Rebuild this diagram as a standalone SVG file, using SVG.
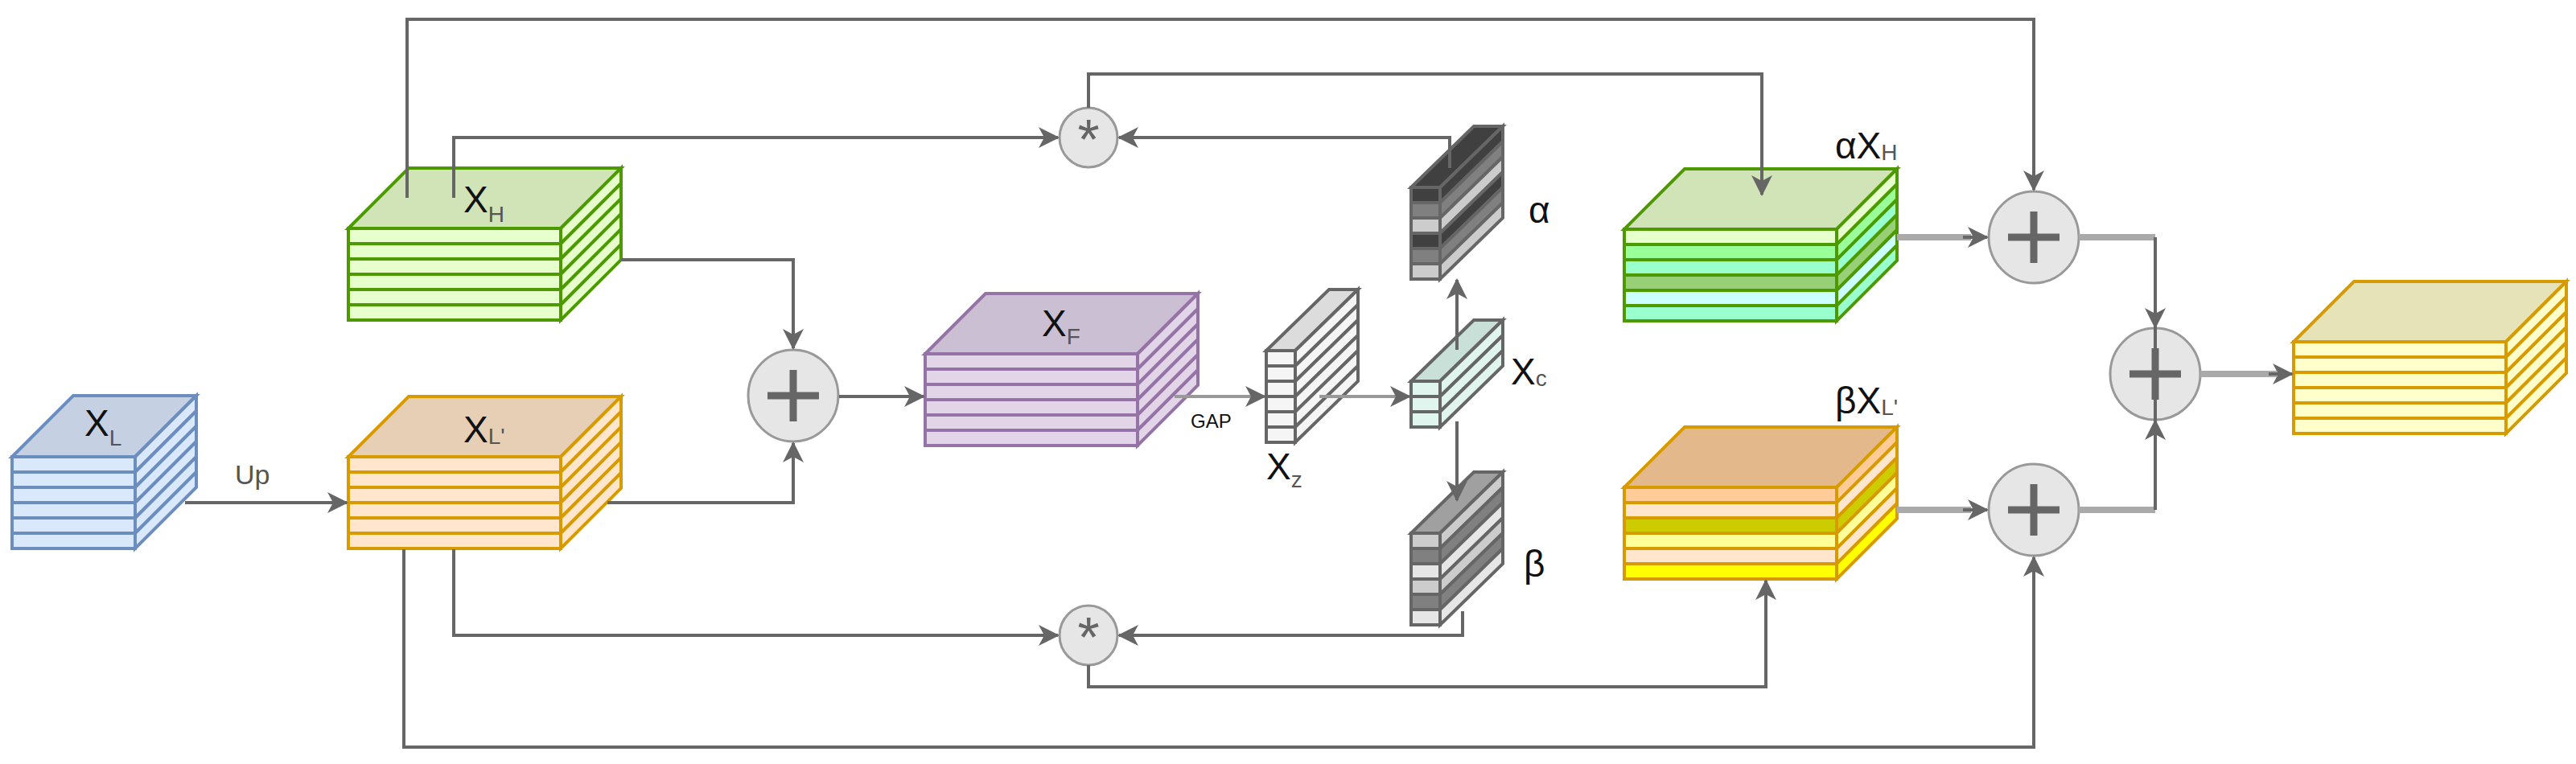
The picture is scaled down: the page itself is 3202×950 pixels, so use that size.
<svg xmlns="http://www.w3.org/2000/svg" xmlns:xlink="http://www.w3.org/1999/xlink" width="3202" height="950" viewBox="0 0 3202 950">
<style>
text{font-family:"Liberation Sans",Arial,sans-serif;fill:#111}
.lab{font-size:46px}
.sub{font-size:28px;fill:#555}
.c{fill:none;stroke:#666;stroke-width:4}
.cl{fill:none;stroke:#aaa;stroke-width:8}
.op{fill:#e6e6e6;stroke:#999;stroke-width:3}
.pl{stroke:#666;stroke-width:9}
</style>
<defs>
<marker id="a" markerUnits="userSpaceOnUse" markerWidth="26" markerHeight="26" viewBox="0 0 26 26" refX="24" refY="13" orient="auto"><path d="M0,0 L26,13 L0,26 L7,13 Z" fill="#666"/></marker>
<rect id="fs" width="264" height="19"/>
<rect id="fss" width="36" height="19"/>
<rect id="fsl" width="153" height="19"/>
<polygon id="bs" points="264,0 339,-75 339,-56 264,19"/>
<polygon id="ss" points="36,0 114,-76 114,-57 36,19"/>
<polygon id="ls" points="153,0 229,-76 229,-57 153,19"/>
</defs>

<g id="XL" transform="translate(15,568)" stroke="#6c8ebf" stroke-width="4">
<polygon points="0,0 76,-76 229,-76 153,0" fill="#c5d0e2"/>
<g fill="#dae8fc"><use href="#fsl"/><use href="#fsl" y="19"/><use href="#fsl" y="38"/><use href="#fsl" y="57"/><use href="#fsl" y="76"/><use href="#fsl" y="95"/>
<use href="#ls"/><use href="#ls" y="19"/><use href="#ls" y="38"/><use href="#ls" y="57"/><use href="#ls" y="76"/><use href="#ls" y="95"/></g>
<text x="90" y="-26" class="lab" stroke="none">X<tspan class="sub" dy="12">L</tspan></text>
</g>

<g id="XH" transform="translate(433,284)" stroke="#4d9900" stroke-width="4">
<polygon points="0,0 75,-75 339,-75 264,0" fill="#d0e4b8"/>
<g fill="#e6ffcc"><use href="#fs"/><use href="#fs" y="19"/><use href="#fs" y="38"/><use href="#fs" y="57"/><use href="#fs" y="76"/><use href="#fs" y="95"/>
<use href="#bs"/><use href="#bs" y="19"/><use href="#bs" y="38"/><use href="#bs" y="57"/><use href="#bs" y="76"/><use href="#bs" y="95"/></g>
<text x="143" y="-20" class="lab" stroke="none">X<tspan class="sub" dy="12">H</tspan></text>
</g>

<g id="XLp" transform="translate(433,568)" stroke="#d79b00" stroke-width="4">
<polygon points="0,0 75,-75 339,-75 264,0" fill="#e6cfb5"/>
<g fill="#ffe6cc"><use href="#fs"/><use href="#fs" y="19"/><use href="#fs" y="38"/><use href="#fs" y="57"/><use href="#fs" y="76"/><use href="#fs" y="95"/>
<use href="#bs"/><use href="#bs" y="19"/><use href="#bs" y="38"/><use href="#bs" y="57"/><use href="#bs" y="76"/><use href="#bs" y="95"/></g>
<text x="143" y="-18" class="lab" stroke="none">X<tspan class="sub" dy="2">L'</tspan></text>
</g>

<g id="XF" transform="translate(1150,440)" stroke="#9673a6" stroke-width="4">
<polygon points="0,0 75,-75 339,-75 264,0" fill="#cbbfd3"/>
<g fill="#e1d5e7"><use href="#fs"/><use href="#fs" y="19"/><use href="#fs" y="38"/><use href="#fs" y="57"/><use href="#fs" y="76"/><use href="#fs" y="95"/>
<use href="#bs"/><use href="#bs" y="19"/><use href="#bs" y="38"/><use href="#bs" y="57"/><use href="#bs" y="76"/><use href="#bs" y="95"/></g>
<text x="145" y="-22" class="lab" stroke="none">X<tspan class="sub" dy="10">F</tspan></text>
</g>

<g id="Xz" transform="translate(1574,436)" stroke="#666" stroke-width="4">
<polygon points="0,0 78,-76 114,-76 36,0" fill="#dcdcdc"/>
<g fill="#f5f5f5"><use href="#fss"/><use href="#fss" y="19"/><use href="#fss" y="38"/><use href="#fss" y="57"/><use href="#fss" y="76"/><use href="#fss" y="95"/>
<use href="#ss"/><use href="#ss" y="19"/><use href="#ss" y="38"/><use href="#ss" y="57"/><use href="#ss" y="76"/><use href="#ss" y="95"/></g>
<text x="-94" y="96" stroke="none" style="font-size:24px">GAP</text>
<text x="0" y="160" class="lab" stroke="none">X<tspan class="sub" dy="10">z</tspan></text>
</g>

<g id="Xc" transform="translate(1754,474)" stroke="#666" stroke-width="4">
<polygon points="0,0 78,-76 114,-76 36,0" fill="#c8e0d8"/>
<g fill="#e0f5ee"><use href="#fss"/><use href="#fss" y="19"/><use href="#fss" y="38"/>
<use href="#ss"/><use href="#ss" y="19"/><use href="#ss" y="38"/></g>
<text x="124" y="4" class="lab" stroke="none">X<tspan class="sub" dy="2">c</tspan></text>
</g>

<g id="alpha" transform="translate(1754,233)" stroke="#666" stroke-width="4">
<polygon points="0,0 78,-76 114,-76 36,0" fill="#404040"/>
<use href="#fss" fill="#404040"/><use href="#fss" y="19" fill="#808080"/><use href="#fss" y="38" fill="#cccccc"/><use href="#fss" y="57" fill="#404040"/><use href="#fss" y="76" fill="#808080"/><use href="#fss" y="95" fill="#cccccc"/>
<use href="#ss" fill="#404040"/><use href="#ss" y="19" fill="#808080"/><use href="#ss" y="38" fill="#cccccc"/><use href="#ss" y="57" fill="#404040"/><use href="#ss" y="76" fill="#808080"/><use href="#ss" y="95" fill="#cccccc"/>
<text x="146" y="44" class="lab" stroke="none">α</text>
</g>

<g id="beta" transform="translate(1754,663)" stroke="#666" stroke-width="4">
<polygon points="0,0 78,-76 114,-76 36,0" fill="#a0a0a0"/>
<use href="#fss" fill="#cccccc"/><use href="#fss" y="19" fill="#808080"/><use href="#fss" y="38" fill="#e6e6e6"/><use href="#fss" y="57" fill="#cccccc"/><use href="#fss" y="76" fill="#808080"/><use href="#fss" y="95" fill="#e6e6e6"/>
<use href="#ss" fill="#cccccc"/><use href="#ss" y="19" fill="#808080"/><use href="#ss" y="38" fill="#e6e6e6"/><use href="#ss" y="57" fill="#cccccc"/><use href="#ss" y="76" fill="#808080"/><use href="#ss" y="95" fill="#e6e6e6"/>
<text x="140" y="54" class="lab" stroke="none">β</text>
</g>

<g id="aXH" transform="translate(2019,285)" stroke="#4d9900" stroke-width="4">
<polygon points="0,0 75,-75 339,-75 264,0" fill="#d0e4b8"/>
<use href="#fs" fill="#e6ffcc"/><use href="#fs" y="19" fill="#99ff99"/><use href="#fs" y="38" fill="#99ffcc"/><use href="#fs" y="57" fill="#97d077"/><use href="#fs" y="76" fill="#ccffff"/><use href="#fs" y="95" fill="#99ffcc"/>
<use href="#bs" fill="#e6ffcc"/><use href="#bs" y="19" fill="#99ff99"/><use href="#bs" y="38" fill="#99ffcc"/><use href="#bs" y="57" fill="#97d077"/><use href="#bs" y="76" fill="#ccffff"/><use href="#bs" y="95" fill="#99ffcc"/>
<text x="262" y="-88" class="lab" stroke="none">αX<tspan class="sub" dy="2">H</tspan></text>
</g>

<g id="bXL" transform="translate(2019,606)" stroke="#d79b00" stroke-width="4">
<polygon points="0,0 75,-75 339,-75 264,0" fill="#e3b88b"/>
<use href="#fs" fill="#ffcc99"/><use href="#fs" y="19" fill="#ffe6cc"/><use href="#fs" y="38" fill="#cccc00"/><use href="#fs" y="57" fill="#ffff99"/><use href="#fs" y="76" fill="#ffe6cc"/><use href="#fs" y="95" fill="#ffff00"/>
<use href="#bs" fill="#ffcc99"/><use href="#bs" y="19" fill="#ffe6cc"/><use href="#bs" y="38" fill="#cccc00"/><use href="#bs" y="57" fill="#ffff99"/><use href="#bs" y="76" fill="#ffe6cc"/><use href="#bs" y="95" fill="#ffff00"/>
<text x="262" y="-92" class="lab" stroke="none">βX<tspan class="sub" dy="2">L'</tspan></text>
</g>

<g id="out" transform="translate(2851,425)" stroke="#d79b00" stroke-width="4">
<polygon points="0,0 75,-75 339,-75 264,0" fill="#e6e3b8"/>
<g fill="#ffffcc"><use href="#fs"/><use href="#fs" y="19"/><use href="#fs" y="38"/><use href="#fs" y="57"/><use href="#fs" y="76"/><use href="#fs" y="95"/>
<use href="#bs"/><use href="#bs" y="19"/><use href="#bs" y="38"/><use href="#bs" y="57"/><use href="#bs" y="76"/><use href="#bs" y="95"/></g>
</g>

<g id="plus1"><ellipse class="op" cx="986" cy="492" rx="56" ry="57"/><path class="pl" d="M986,460 V524 M954,492 H1018"/></g>
<g id="mul1"><ellipse class="op" cx="1353" cy="171" rx="36" ry="37"/><text x="1353" y="198" text-anchor="middle" style="font-size:70px;fill:#666">*</text></g>
<g id="mul2"><ellipse class="op" cx="1353" cy="790" rx="36" ry="37"/><text x="1353" y="817" text-anchor="middle" style="font-size:70px;fill:#666">*</text></g>
<g id="plus2"><ellipse class="op" cx="2528" cy="295" rx="56" ry="57"/><path class="pl" d="M2528,263 V327 M2496,295 H2560"/></g>
<g id="plus3"><ellipse class="op" cx="2528" cy="634" rx="56" ry="57"/><path class="pl" d="M2528,602 V666 M2496,634 H2560"/></g>
<g id="plus4"><ellipse class="op" cx="2679" cy="465" rx="56" ry="57"/><path class="pl" d="M2679,433 V497 M2647,465 H2711"/></g>

<g id="connectors">
<path class="c" marker-end="url(#a)" d="M230,625 H431"/>
<text x="292" y="602" style="font-size:34px;fill:#555">Up</text>
<path class="c" marker-end="url(#a)" d="M506,246 V24 H2528 V236"/>
<path class="c" marker-end="url(#a)" d="M564,246 V171 H1315"/>
<path class="c" marker-end="url(#a)" d="M772,323 H986 V433"/>
<path class="c" marker-end="url(#a)" d="M755,625 H986 V551"/>
<path class="c" marker-end="url(#a)" d="M1043,493 H1148"/>
<path class="c" style="stroke:#999" marker-end="url(#a)" d="M1460,493 H1572"/>
<path class="c" style="stroke:#999" marker-end="url(#a)" d="M1640,493 H1752"/>
<path class="c" marker-end="url(#a)" d="M1811,435 V348"/>
<path class="c" marker-end="url(#a)" d="M1811,524 V622"/>
<path class="c" marker-end="url(#a)" d="M1802,209 V171 H1391"/>
<path class="c" marker-end="url(#a)" d="M1353,134 V92 H2190 V242"/>
<path class="c" marker-end="url(#a)" d="M502,683 V929 H2528 V693"/>
<path class="c" marker-end="url(#a)" d="M564,683 V790 H1315"/>
<path class="c" marker-end="url(#a)" d="M1818,760 V790 H1391"/>
<path class="c" marker-end="url(#a)" d="M1353,827 V854 H2195 V722"/>
<path class="cl" d="M2358,295 H2450"/><path class="c" marker-end="url(#a)" d="M2440,295 H2470"/>
<path class="cl" d="M2584,295 H2679"/><path class="c" marker-end="url(#a)" d="M2679,295 V407"/>
<path class="cl" d="M2358,634 H2450"/><path class="c" marker-end="url(#a)" d="M2440,634 H2470"/>
<path class="cl" d="M2584,634 H2679"/><path class="c" marker-end="url(#a)" d="M2679,634 V407 M2679,634 V523"/>
<path class="cl" d="M2735,465 H2830"/><path class="c" marker-end="url(#a)" d="M2820,465 H2849"/>
</g>
</svg>
